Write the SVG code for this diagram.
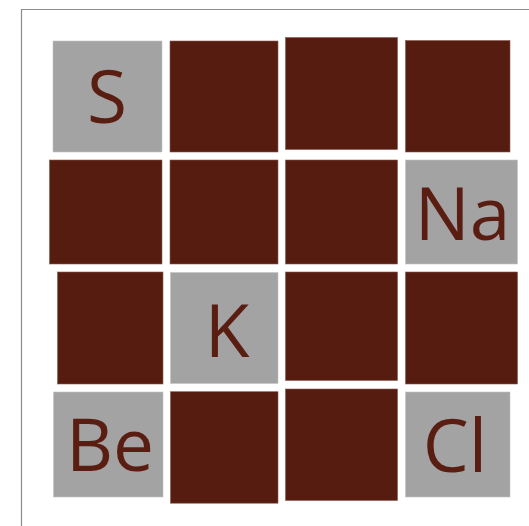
<svg xmlns="http://www.w3.org/2000/svg" width="529" height="526" viewBox="0 0 529 526">
<style>
.d{fill:#561c10;stroke:#8a5a50;stroke-width:0.6}
.g{fill:#a3a3a3;stroke:#c4c4c4;stroke-width:0.6}
.t{font-family:"Open Sans","Liberation Sans",sans-serif;font-size:73px;font-weight:400;fill:#5a1d12;text-anchor:middle}
</style>
<rect width="529" height="526" fill="#ffffff"/>
<path d="M21.5,526 V9.5 H529" fill="none" stroke="#8c8c8c" stroke-width="1.2"/>
<g id="r1c1"><rect class="g" x="53" y="41" width="109" height="111"/><text class="t" x="107" y="123">S</text></g>
<g id="r1c2"><rect class="d" x="170" y="41" width="108" height="111"/></g>
<g id="r1c3"><rect class="d" x="285.5" y="37.5" width="112" height="112"/></g>
<g id="r1c4"><rect class="d" x="405.5" y="40.5" width="104.5" height="111.5"/></g>
<g id="r2c1"><rect class="d" x="49.5" y="160" width="112.5" height="104"/></g>
<g id="r2c2"><rect class="d" x="170" y="160" width="108" height="104"/></g>
<g id="r2c3"><rect class="d" x="285.5" y="160" width="112" height="104"/></g>
<g id="r2c4"><rect class="g" x="405.5" y="160" width="112" height="104"/><text class="t" x="462.5" y="240">Na</text></g>
<g id="r3c1"><rect class="d" x="57.5" y="272" width="105.5" height="112"/></g>
<g id="r3c2"><rect class="g" x="170.5" y="272.5" width="107.5" height="111"/><text class="t" x="227" y="357">K</text></g>
<g id="r3c3"><rect class="d" x="285.5" y="272" width="112" height="108.5"/></g>
<g id="r3c4"><rect class="d" x="405.5" y="272" width="112" height="112"/></g>
<g id="r4c1"><rect class="g" x="53.5" y="392" width="109.5" height="105"/><text class="t" x="110" y="471">Be</text></g>
<g id="r4c2"><rect class="d" x="170.5" y="391.7" width="107.5" height="111.5"/></g>
<g id="r4c3"><rect class="d" x="285.5" y="389" width="112" height="111.5"/></g>
<g id="r4c4"><rect class="g" x="405.5" y="392" width="104.5" height="105"/><text class="t" x="455" y="472">Cl</text></g>
</svg>
